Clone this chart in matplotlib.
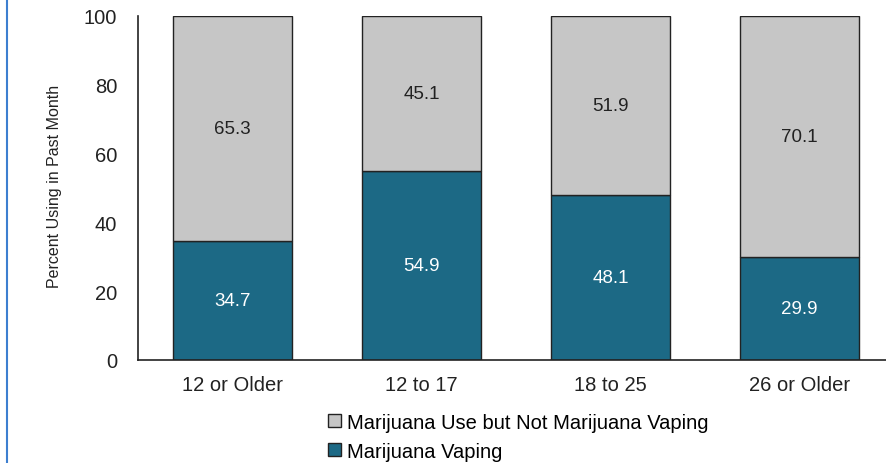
import matplotlib.pyplot as plt
from matplotlib.lines import Line2D
from matplotlib.patches import Patch

categories = ["12 or Older", "12 to 17", "18 to 25", "26 or Older"]
vaping = [34.7, 54.9, 48.1, 29.9]
use_not_vaping = [65.3, 45.1, 51.9, 70.1]

TEAL = "#1c6985"
GRAY = "#c6c6c6"

plt.rcParams["font.family"] = ["Liberation Sans", "DejaVu Sans"]

fig = plt.figure(figsize=(8.86, 4.64), dpi=100)
ax = fig.add_axes([0.1558, 0.222, 0.8442, 0.7414])

x = range(len(categories))
ax.bar(x, vaping, width=0.625, color=TEAL, edgecolor="#222222", linewidth=1)
ax.bar(x, use_not_vaping, bottom=vaping, width=0.625, color=GRAY,
       edgecolor="#222222", linewidth=1)

for i in x:
    ax.text(i, vaping[i] / 2, f"{vaping[i]:.1f}", ha="center", va="center",
            color="white", fontsize=13.5)
    ax.text(i, vaping[i] + use_not_vaping[i] / 2, f"{use_not_vaping[i]:.1f}",
            ha="center", va="center", color="#222222", fontsize=13.5)

ax.set_xlim(-0.5, 3.458)
ax.set_ylim(0, 100)
ax.set_yticks([0, 20, 40, 60, 80, 100])
ax.set_xticks(list(x))
ax.set_xticklabels(categories)
ax.tick_params(axis="both", length=0, labelsize=14.5, colors="#222222")
ax.tick_params(axis="y", pad=15)
ax.tick_params(axis="x", pad=11)
for s in ["top", "right"]:
    ax.spines[s].set_visible(False)
for s in ["left", "bottom"]:
    ax.spines[s].set_color("#222222")
    ax.spines[s].set_linewidth(1.2)

fig.text(0.062, 0.599, "Percent Using in Past Month", rotation=90, ha="center",
         va="center", fontsize=11.5, color="#222222")

handles = [Patch(facecolor=GRAY, edgecolor="#222222"),
           Patch(facecolor=TEAL, edgecolor="#222222")]
fig.legend(handles, ["Marijuana Use but Not Marijuana Vaping", "Marijuana Vaping"],
           loc="lower left", bbox_to_anchor=(0.35, -0.034), frameon=False,
           fontsize=14.5, handlelength=0.65, handleheight=0.65, handletextpad=0.3,
           labelspacing=0.5)

fig.add_artist(Line2D([0.008, 0.008], [0, 1], color="#3d7fd0", linewidth=1.5,
                      transform=fig.transFigure))

plt.savefig("out.png", dpi=100)
plt.close()
